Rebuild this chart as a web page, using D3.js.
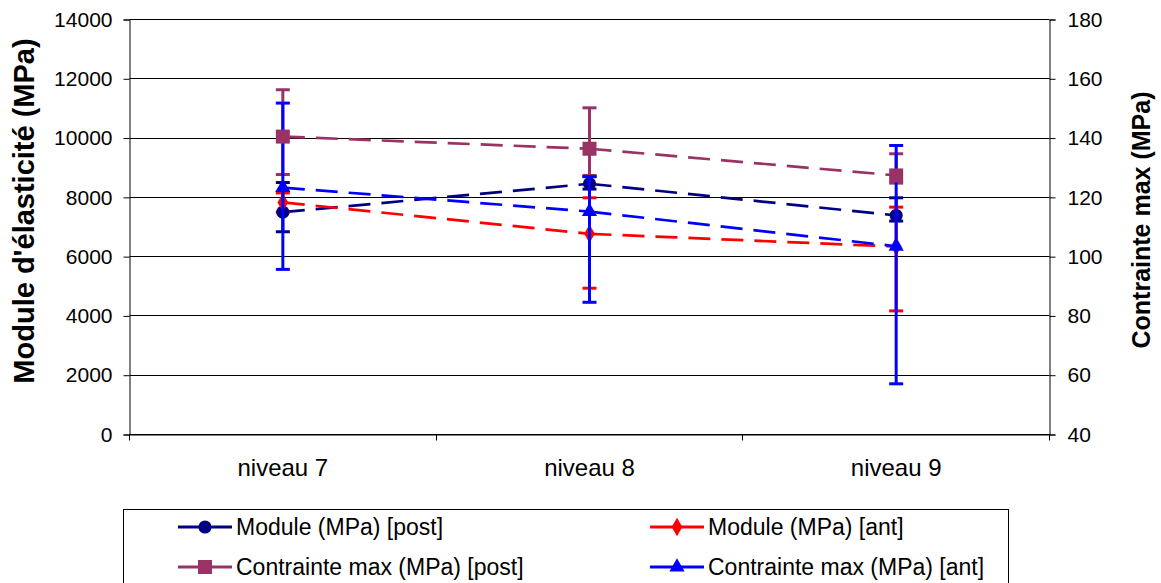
<!DOCTYPE html>
<html>
<head>
<meta charset="utf-8">
<script src="https://cdn.jsdelivr.net/npm/d3@7"></script>
<style>
  html, body { margin: 0; padding: 0; background: #fff; }
  svg { display: block; }
  text { font-family: "Liberation Sans", Arial, sans-serif; fill: #000; }
</style>
</head>
<body>
<svg id="chart" width="1161" height="583"></svg>
<script>
// ---- data ----
const categories = ["niveau 7", "niveau 8", "niveau 9"];

const modulePost      = [7500, 8460, 7390];
const modulePostLow   = [6840, 8280, 7200];
const modulePostHigh  = [8500, 8700, 7985];

const moduleAnt       = [7830, 6770, 6340];
const moduleAntLow    = [7500, 4935, 4170];
const moduleAntHigh   = [8150, 7985, 7670];

const contraintePost     = [140.5, 136.4, 127.4];
const contraintePostLow  = [127.7, 127.4, 124.8];
const contraintePostHigh = [156.3, 150.2, 134.7];

const contrainteAnt     = [123.3, 115.2, 103.5];
const contrainteAntLow  = [95.7, 84.6, 57.1];
const contrainteAntHigh = [151.8, 127.0, 137.5];

const leftTicks  = [0, 2000, 4000, 6000, 8000, 10000, 12000, 14000];
const rightTicks = [40, 60, 80, 100, 120, 140, 160, 180];

const leftTitle  = "Module d'élasticité (MPa)";
const rightTitle = "Contrainte max (MPa)";

const legendLabels = ["Module (MPa) [post]", "Module (MPa) [ant]",
                      "Contrainte max (MPa) [post]", "Contrainte max (MPa) [ant]"];

// ---- layout ----
const svg = d3.select("#chart");
const X0 = 129.5, X1 = 1049.5, Y0 = 19.5, Y1 = 434.5;

const x = d3.scaleBand().domain(categories).range([X0, X1]).padding(0);
const yL = d3.scaleLinear().domain([0, 14000]).range([Y1, Y0]);
const yR = d3.scaleLinear().domain([40, 180]).range([Y1, Y0]);
const cx = c => x(c) + x.bandwidth() / 2;

// gridlines
svg.append("g").selectAll("line").data(leftTicks).join("line")
  .attr("x1", X0).attr("x2", X1)
  .attr("y1", d => Math.round(yL(d) - 0.5) + 0.5).attr("y2", d => Math.round(yL(d) - 0.5) + 0.5)
  .attr("stroke", "#000").attr("stroke-width", 1);

// left axis
const gL = svg.append("g").attr("transform", `translate(${X0},0)`)
  .call(d3.axisLeft(yL).tickValues(leftTicks).tickSize(6).tickPadding(11).tickFormat(d3.format("d")));
// right axis
const gR = svg.append("g").attr("transform", `translate(${X1},0)`)
  .call(d3.axisRight(yR).tickValues(rightTicks).tickSize(6).tickPadding(12).tickFormat(d3.format("d")));
// bottom axis
const gB = svg.append("g").attr("transform", `translate(0,${Y1})`)
  .call(d3.axisBottom(x).tickSize(0).tickPadding(24));
// category boundary ticks
svg.append("g").selectAll("line").data(d3.range(categories.length + 1)).join("line")
  .attr("x1", i => Math.round(X0 + i * x.bandwidth() - 0.5) + 0.5)
  .attr("x2", i => Math.round(X0 + i * x.bandwidth() - 0.5) + 0.5)
  .attr("y1", Y1).attr("y2", Y1 + 6).attr("stroke", "#000");

[gL, gR, gB].forEach(g => {
  g.selectAll(".domain").attr("stroke", "#000").attr("stroke-width", 1);
  g.selectAll(".tick line").attr("stroke", "#000");
  g.selectAll(".tick text").attr("font-size", 21).attr("font-family", "Liberation Sans, Arial, sans-serif").attr("fill", "#000");
});
gB.selectAll(".tick text").attr("font-size", 24);
gB.selectAll(".domain").attr("d", `M${X0},0.5H${X1}`);

// axis titles
svg.append("text").attr("transform", `translate(34,211) rotate(-90)`)
  .attr("text-anchor", "middle").attr("font-weight", "bold").attr("font-size", 29)
  .text(leftTitle);
svg.append("text").attr("transform", `translate(1150,220) rotate(-90)`)
  .attr("text-anchor", "middle").attr("font-weight", "bold").attr("font-size", 25)
  .text(rightTitle);

// ---- series ----
const series = [
  { vals: modulePost, lo: modulePostLow, hi: modulePostHigh, y: yL, color: "#000080", marker: "circle" },
  { vals: moduleAnt, lo: moduleAntLow, hi: moduleAntHigh, y: yL, color: "#FF0000", marker: "diamond" },
  { vals: contraintePost, lo: contraintePostLow, hi: contraintePostHigh, y: yR, color: "#993366", marker: "square" },
  { vals: contrainteAnt, lo: contrainteAntLow, hi: contrainteAntHigh, y: yR, color: "#0000FF", marker: "triangle" }
];

const symbolOf = {
  circle: d3.symbol().type(d3.symbolCircle).size(135),
  diamond: d3.symbol().type(d3.symbolDiamond).size(100),
  square: d3.symbol().type(d3.symbolSquare).size(196),
  triangle: d3.symbol().type(d3.symbolTriangle).size(100)
};

function drawMarker(g, type, px, py, color) {
  g.append("path").attr("d", symbolOf[type]())
    .attr("transform", `translate(${px},${py})`)
    .attr("fill", color).attr("stroke", "none");
}

const lineGen = d3.line();

function drawGroup(list) {
  const g = svg.append("g");
  list.forEach(s => {
    for (let i = 0; i < categories.length - 1; i++) {
      const pts = [[cx(categories[i]), s.y(s.vals[i])], [cx(categories[i + 1]), s.y(s.vals[i + 1])]];
      g.append("path").attr("d", lineGen(pts)).attr("fill", "none")
        .attr("stroke", s.color).attr("stroke-width", 2.7).attr("stroke-dasharray", "22,11");
    }
  });
  list.forEach(s => {
    categories.forEach((c, i) => {
      const px = cx(c);
      g.append("line").attr("x1", px).attr("x2", px)
        .attr("y1", s.y(s.lo[i])).attr("y2", s.y(s.hi[i]))
        .attr("stroke", s.color).attr("stroke-width", 3);
      [s.lo[i], s.hi[i]].forEach(v => {
        g.append("line").attr("x1", px - 7).attr("x2", px + 7)
          .attr("y1", s.y(v)).attr("y2", s.y(v))
          .attr("stroke", s.color).attr("stroke-width", 3);
      });
    });
  });
  list.forEach(s => {
    categories.forEach((c, i) => drawMarker(g, s.marker, cx(c), s.y(s.vals[i]), s.color));
  });
}
drawGroup(series.slice(0, 2));
drawGroup(series.slice(2, 4));

// ---- legend ----
const lg = svg.append("g");
lg.append("rect").attr("x", 123.5).attr("y", 509.5).attr("width", 885).attr("height", 120)
  .attr("fill", "#fff").attr("stroke", "#000").attr("stroke-width", 1);
const legPos = [[178, 527], [650, 527], [178, 567], [650, 567]];
series.forEach((s, i) => {
  const [lx, ly] = legPos[i];
  lg.append("line").attr("x1", lx).attr("x2", lx + 54).attr("y1", ly).attr("y2", ly)
    .attr("stroke", s.color).attr("stroke-width", 3);
  drawMarker(lg, s.marker, lx + 27, ly, s.color);
  lg.append("text").attr("x", lx + 58).attr("y", ly).attr("dy", "0.35em")
    .attr("font-size", 23).text(legendLabels[i]);
});
</script>
</body>
</html>
